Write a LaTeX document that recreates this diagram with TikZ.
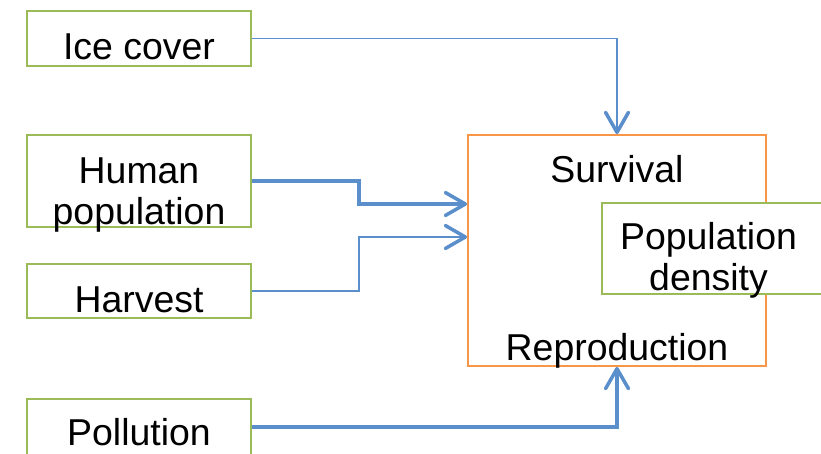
\documentclass[tikz,border=0pt]{standalone}
\usepackage{fontspec}
\setmainfont{Liberation Sans}
\usetikzlibrary{arrows.meta}
\definecolor{boxgreen}{HTML}{9BBB59}
\definecolor{boxorange}{HTML}{F79646}
\definecolor{linkblue}{HTML}{5A8FCB}
\tikzset{
  factor/.style={draw=boxgreen, line width=1.1pt, fill=white, minimum width=4.48cm, inner ysep=0pt, text height=24pt, text depth=0pt},
  factortwo/.style={factor, align=center, text height=49pt, text depth=0pt},
  thinlink/.style={draw=linkblue, line width=0.85pt, -{Straight Barb[length=0.4cm, width=0.46cm, line width=2pt, round]}},
  thicklink/.style={thinlink, line width=2.2pt}
}
\begin{document}
\begin{tikzpicture}[x=0.02cm, y=-0.02cm, font=\fontsize{21.3}{23.3}\selectfont]
\useasboundingbox (0,0) rectangle (821,453);
\node[factor, minimum height=1.1cm] (ice) at (139,38.5) {Ice cover};
\node[factortwo, minimum height=1.84cm] (human) at (139,181) {Human\\population};
\node[factor, minimum height=1.08cm] (harvest) at (139,291) {Harvest};
\node[factor, minimum height=1.2cm, text height=18.8pt] (pollution) at (139,429) {Pollution};
\node[draw=boxorange, line width=1.1pt, minimum width=5.96cm, minimum height=4.62cm] (vital) at (617,250.5) {};
\node[draw=boxgreen, fill=white, line width=1.1pt, minimum width=4.6cm, minimum height=1.82cm, anchor=west] (density) at (601,248.5) {};
\node[anchor=base] (survival) at (617,182) {Survival};
\node[anchor=base] (reproduction) at (617,360) {Reproduction};
\node[anchor=base, align=center] (densitytext) at (708.5,290) {Population\\density};
\draw[thinlink] (ice) -| (vital);
\draw[thicklink] (human.east) -- ++(107,0) |- ([yshift=0.93cm]vital.west);
\draw[thinlink] (harvest.east) -- ++(107,0) |- ([yshift=0.27cm]vital.west);
\draw[thicklink] (pollution.east |- 0,427) -| (vital);
\end{tikzpicture}
\end{document}
